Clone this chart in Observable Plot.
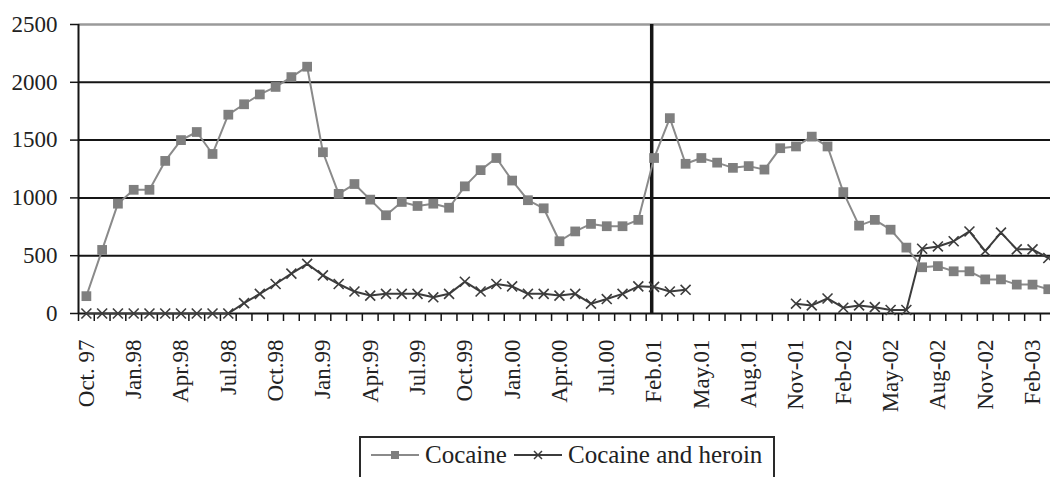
<!DOCTYPE html>
<html>
<head>
<meta charset="utf-8">
<script src="https://cdn.jsdelivr.net/npm/d3@7"></script>
<script src="https://cdn.jsdelivr.net/npm/@observablehq/plot@0.6"></script>
<style>
  html, body { margin: 0; padding: 0; background: white; overflow: hidden; }
  #wrap { position: relative; width: 1050px; height: 477px; }
  #legend { position: absolute; left: 359px; top: 436px; width: 412px; height: 60px;
    border: 2px solid #2a2a2a; border-bottom: none; font-family: "Liberation Serif", serif; font-size: 25px; color: #222; }
  #legend .item { position: absolute; top: 3px; display: flex; align-items: center; white-space: nowrap; }
  #legend svg { display: block; }
</style>
</head>
<body>
<div id="wrap">
  <div id="chart"></div>
  <div id="legend"></div>
</div>
<script>
const months = ["Oct. 97","Nov.97","Dec.97","Jan.98","Feb.98","Mar.98","Apr.98","May.98","Jun.98","Jul.98",
  "Aug.98","Sep.98","Oct.98","Nov.98","Dec.98","Jan.99","Feb.99","Mar.99","Apr.99","May.99",
  "Jun.99","Jul.99","Aug.99","Sep.99","Oct.99","Nov.99","Dec.99","Jan.00","Feb.00","Mar.00",
  "Apr.00","May.00","Jun.00","Jul.00","Aug.00","Sep.00","Feb.01","Mar.01","Apr.01","May.01",
  "Jun.01","Jul.01","Aug.01","Sep.01","Oct.01","Nov-01","Dec-01","Jan-02","Feb-02","Mar-02",
  "Apr-02","May-02","Jun-02","Jul-02","Aug-02","Sep-02","Oct-02","Nov-02","Dec-02","Jan-03",
  "Feb-03","Mar-03"];

const cocaine = [150,550,950,1070,1070,1320,1500,1570,1380,1720,
  1810,1895,1960,2045,2135,1395,1035,1120,985,850,
  965,930,950,915,1100,1240,1345,1150,980,910,
  625,710,775,755,755,810,1345,1690,1295,1345,
  1305,1260,1275,1245,1430,1445,1530,1445,1050,760,
  810,725,570,400,410,365,365,295,295,250,
  250,210];

const heroin = [0,0,0,0,0,0,0,0,0,0,
  90,170,255,345,430,330,255,190,155,170,
  170,170,140,170,275,190,255,235,170,170,
  155,170,85,125,170,235,230,190,205,null,
  null,null,null,null,null,85,70,130,50,70,
  55,30,30,560,580,625,710,540,700,555,
  555,480];

const yTicks = [0,500,1000,1500,2000,2500];
const breakMonth = "Feb.01";
const seriesNames = ["Cocaine","Cocaine and heroin"];

const data = months.map((m, i) => ({month: m, x: i + 0.5, cocaine: cocaine[i], heroin: heroin[i]}));
const labelIdx = d3.range(0, months.length, 3);

const font = "Liberation Serif";
const chart = Plot.plot({
  width: 1050,
  height: 420,
  marginLeft: 78,
  marginRight: 0,
  marginTop: 24,
  marginBottom: 107,
  x: {domain: [0, 61.64], axis: null},
  y: {domain: [0, 2500], axis: null},
  style: {fontFamily: font, fontSize: "23px", color: "#222", background: "white"},
  marks: [
    Plot.ruleY(yTicks.filter(t => t > 0 && t < 2500), {stroke: "#151515", strokeWidth: 2}),
    Plot.ruleY([2500], {stroke: "#9a9a9a", strokeWidth: 2.5}),
    Plot.axisY({ticks: yTicks, tickFormat: d => String(d), tickSize: 8, tickPadding: 13, label: null, fontSize: 23, fontFamily: font, stroke: "#151515", strokeWidth: 1.5}),
    Plot.axisX({ticks: d3.range(0, months.length), tickSize: 8, tickFormat: () => "", label: null, stroke: "#151515", strokeWidth: 1.5}),
    Plot.axisX({ticks: labelIdx.map(i => i + 0.5), tickFormat: v => months[Math.floor(v)], tickSize: 0, tickPadding: 26, tickRotate: -90, label: null, fontSize: 23, fontFamily: font}),
    Plot.ruleX([0], {y1: 0, y2: 2500, stroke: "#151515", strokeWidth: 2}),
    Plot.ruleY([0], {stroke: "#151515", strokeWidth: 2}),
    Plot.ruleX([months.indexOf(breakMonth) + 0.35], {y1: 0, y2: 2500, stroke: "#151515", strokeWidth: 3.5}),
    Plot.line(data, {x: "x", y: "heroin", stroke: "#3c3c3c", strokeWidth: 2}),
    Plot.dot(data, {x: "x", y: "heroin", symbol: "times", r: 4.6, stroke: "#3c3c3c", strokeWidth: 1.6}),
    Plot.line(data, {x: "x", y: "cocaine", stroke: "#8a8a8a", strokeWidth: 2}),
    Plot.dot(data, {x: "x", y: "cocaine", symbol: "square", r: 5.5, fill: "#7f7f7f", stroke: "none"})
  ]
});
document.getElementById("chart").appendChild(chart);

// Legend
const legend = document.getElementById("legend");
function item(left, name, kind) {
  const div = document.createElement("div");
  div.className = "item";
  div.style.left = left + "px";
  const ns = "http://www.w3.org/2000/svg";
  const s = document.createElementNS(ns, "svg");
  s.setAttribute("width", 50); s.setAttribute("height", 20);
  const ln = document.createElementNS(ns, "line");
  ln.setAttribute("x1", 1); ln.setAttribute("x2", 49); ln.setAttribute("y1", 10); ln.setAttribute("y2", 10);
  ln.setAttribute("stroke", kind === "square" ? "#8a8a8a" : "#3c3c3c"); ln.setAttribute("stroke-width", 2);
  s.appendChild(ln);
  if (kind === "square") {
    const r = document.createElementNS(ns, "rect");
    r.setAttribute("x", 21); r.setAttribute("y", 6); r.setAttribute("width", 8); r.setAttribute("height", 8);
    r.setAttribute("fill", "#7f7f7f");
    s.appendChild(r);
  } else {
    const p = document.createElementNS(ns, "path");
    p.setAttribute("d", "M21,6L29,14M21,14L29,6");
    p.setAttribute("stroke", "#3c3c3c"); p.setAttribute("stroke-width", 1.5);
    s.appendChild(p);
  }
  div.appendChild(s);
  const t = document.createElement("span");
  t.textContent = name;
  t.style.marginLeft = "5px";
  div.appendChild(t);
  legend.appendChild(div);
}
item(9, seriesNames[0], "square");
item(152, seriesNames[1], "times");
</script>
</body>
</html>
